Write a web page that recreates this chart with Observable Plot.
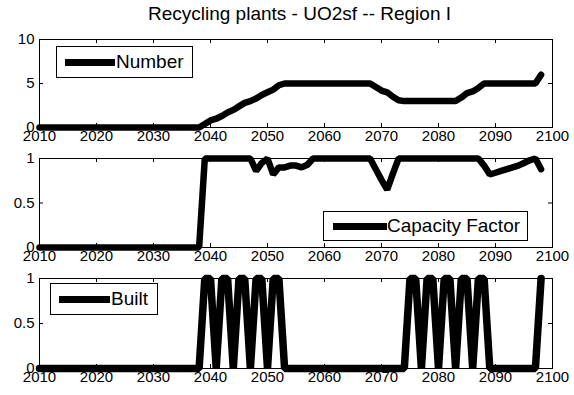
<!DOCTYPE html>
<html><head><meta charset="utf-8">
<script src="https://cdn.jsdelivr.net/npm/d3@7"></script>
<script src="https://cdn.jsdelivr.net/npm/@observablehq/plot@0.6"></script>
<style>
body{margin:0;background:#fff;}
#chart{position:relative;width:574px;height:395px;font-family:"Liberation Sans",Arial,sans-serif;overflow:hidden;background:#fff;}
#chart svg{position:absolute;left:0;overflow:visible;}
.title{position:absolute;left:43px;width:513px;top:4px;text-align:center;font-size:19px;line-height:20px;color:#000;}
.legend{position:absolute;border:1px solid #000;background:#fff;box-sizing:border-box;}
.legend .sw{position:absolute;height:7px;background:#000;}
.legend .lb{position:absolute;font-size:19px;line-height:20px;color:#000;}
</style></head>
<body><div id="chart"><div class="title">Recycling plants - UO2sf -- Region I</div></div>
<script>
const years = [2010,2011,2012,2013,2014,2015,2016,2017,2018,2019,2020,2021,2022,2023,2024,2025,2026,2027,2028,2029,
2030,2031,2032,2033,2034,2035,2036,2037,2038,2039,2040,2041,2042,2043,2044,2045,2046,2047,2048,2049,
2050,2051,2052,2053,2054,2055,2056,2057,2058,2059,2060,2061,2062,2063,2064,2065,2066,2067,2068,2069,
2070,2071,2072,2073,2074,2075,2076,2077,2078,2079,2080,2081,2082,2083,2084,2085,2086,2087,2088,2089,
2090,2091,2092,2093,2094,2095,2096,2097,2098];

const numberPlants = [0,0,0,0,0,0,0,0,0,0, 0,0,0,0,0,0,0,0,0,0, 0,0,0,0,0,0,0,0,0,
0.4,0.8,1.0,1.3,1.7,2.0,2.4,2.8,3.0,3.3,3.7,4.0,4.3,4.8,5,
5,5,5,5,5,5,5,5,5,5,5,5,5,5,5,
4.6,4.2,4.0,3.5,3.1,3,
3,3,3,3,3,3,3,3,3,
3.4,3.9,4.1,4.5,5,
5,5,5,5,5,5,5,5,5,
6];

const capacityFactor = [0,0,0,0,0,0,0,0,0,0, 0,0,0,0,0,0,0,0,0,0, 0,0,0,0,0,0,0,0,0,
1,1,1,1,1,1,1,1,1,
0.86,0.95,1,0.82,0.9,0.9,0.92,0.92,0.9,0.93,1,
1,1,1,1,1,1,1,1,1,1,
0.88,0.76,0.65,0.83,1,
1,1,1,1,1,1,1,1,1,1,1,1,1,1,
0.92,0.82,0.84,0.86,0.88,0.9,0.92,0.95,0.98,1,0.88];

const built = [0,0,0,0,0,0,0,0,0,0, 0,0,0,0,0,0,0,0,0,0, 0,0,0,0,0,0,0,0,0,
1,1,0,1,1,0,1,1,0,1,1,0,1,1,0,
0,0,0,0,0,0,0,0,0,0,0,0,0,0,0,0,0,0,0,0,0,
1,1,0,1,1,0,1,1,0,1,1,0,1,1,0,
0,0,0,0,0,0,0,0,
1];

const xTicks = [2010,2020,2030,2040,2050,2060,2070,2080,2090,2100];
const yTicksNumber = [0,5,10];
const yTicksFraction = [0,0.5,1];
const legendLabels = ["Number","Capacity Factor","Built"];

const W = 574, ML = 39, MR = 22;
const xDomain = [2010, 2100];
const chart = document.getElementById("chart");

function panel(values, yDomain, yTicks, top, height, mt, mb, sw) {
  const data = years.map((yr, i) => ({year: yr, v: values[i]}));
  const innerH = height - mt - mb, innerW = W - ML - MR;
  const ty = 4 / innerH * (yDomain[1] - yDomain[0]);
  const tx = 4 / innerW * (xDomain[1] - xDomain[0]);
  const svg = Plot.plot({
    width: W, height, marginTop: mt, marginBottom: mb, marginLeft: ML, marginRight: MR,
    style: {fontFamily: '"Liberation Sans", Arial, sans-serif', fontSize: "15px", color: "#000", background: "transparent", overflow: "visible"},
    x: {domain: xDomain, ticks: xTicks, tickSize: 0, tickPadding: 3, tickFormat: d => String(d), label: null},
    y: {domain: yDomain, ticks: yTicks, tickSize: 0, tickPadding: 5, tickFormat: d => String(d), label: null},
    marks: [
      Plot.ruleX(xTicks, {x: d => d, y1: yDomain[0], y2: yDomain[0] + ty, stroke: "#000"}),
      Plot.ruleX(xTicks, {x: d => d, y1: yDomain[1] - ty, y2: yDomain[1], stroke: "#000"}),
      Plot.ruleY(yTicks, {y: d => d, x1: xDomain[0], x2: xDomain[0] + tx, stroke: "#000"}),
      Plot.ruleY(yTicks, {y: d => d, x1: xDomain[1] - tx, x2: xDomain[1], stroke: "#000"}),
      Plot.line(data, {x: "year", y: "v", stroke: "#000", strokeWidth: sw, strokeLinejoin: "miter"}),
      Plot.frame({stroke: "#000"})
    ]
  });
  svg.style.top = top + "px";
  chart.appendChild(svg);
}

panel(numberPlants, [0, 10], yTicksNumber, 28, 120, 11, 21, 6.5);
panel(capacityFactor, [0, 1], yTicksFraction, 147, 120, 11, 20, 6.5);
panel(built, [0, 1], yTicksFraction, 267, 128, 11, 27, 7.5);

function legend(label, box, sw, lbX) {
  const d = document.createElement("div");
  d.className = "legend";
  d.style.left = box[0] + "px"; d.style.top = box[1] + "px";
  d.style.width = box[2] + "px"; d.style.height = box[3] + "px";
  const s = document.createElement("div");
  s.className = "sw";
  s.style.left = sw[0] + "px"; s.style.width = sw[1] + "px";
  s.style.top = (box[3] / 2 - 4) + "px";
  const t = document.createElement("div");
  t.className = "lb"; t.textContent = label;
  t.style.left = lbX + "px"; t.style.top = (box[3] / 2 - 11) + "px";
  d.appendChild(s); d.appendChild(t);
  chart.appendChild(d);
}
legend(legendLabels[0], [56, 46, 137, 32], [8, 50], 59);
legend(legendLabels[1], [323, 211, 205, 30], [9, 54], 63);
legend(legendLabels[2], [50, 283, 108, 32], [8, 51], 60);
</script></body></html>
